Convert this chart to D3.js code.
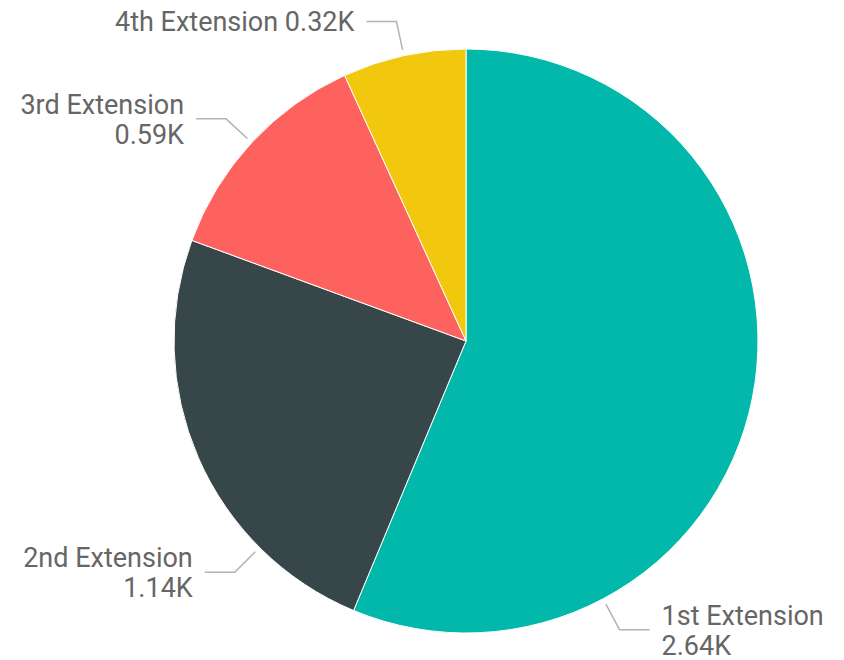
<!DOCTYPE html>
<html>
<head>
<meta charset="utf-8">
<script src="https://cdn.jsdelivr.net/npm/d3@7"></script>
<style>
  html, body { margin: 0; padding: 0; background: #fff; }
  svg { display: block; }
  .label { font-family: Roboto, "Noto Sans", sans-serif; font-size: 27px; fill: #666; }
  .leader { fill: none; stroke: #b3b3b3; stroke-width: 1.5; }
</style>
</head>
<body>
<svg id="chart" width="844" height="660"></svg>
<script>
// ----- Data ---------------------------------------------------------------
const categories = ["1st Extension", "2nd Extension", "3rd Extension", "4th Extension"];
const values = [2.64, 1.14, 0.59, 0.32]; // thousands
const colors = ["#01B8AA", "#374649", "#FD625E", "#F2C80F"];

// label layout: leader angle (deg, clockwise from 12 o'clock), two-line or not
const labelLayout = [
    { angle: 152, lines: 2 },
    { angle: 225, lines: 2 },
    { angle: null, lines: 2 }, // null = slice mid-angle
    { angle: null, lines: 1 }
];

// ----- Geometry -----------------------------------------------------------
const width = 844, height = 660;
const cx = 466, cy = 341, radius = 292;
const r1 = 298, r2 = 327, hLen = 30, gap = 12;

const svg = d3.select("#chart");
const g = svg.append("g").attr("transform", `translate(${cx},${cy})`);

const table = categories.map((c, i) => ({ name: c, value: values[i], color: colors[i], layout: labelLayout[i] }));

const pie = d3.pie().sort(null).value((d) => d.value);
const arc = d3.arc().innerRadius(0).outerRadius(radius);
const arcs = pie(table);

g.selectAll("path.slice")
    .data(arcs)
    .join("path")
    .attr("class", "slice")
    .attr("d", arc)
    .attr("fill", (d) => d.data.color)
    .attr("stroke", "#fff")
    .attr("stroke-width", 1);

// ----- Labels -------------------------------------------------------------
const fmt = (v) => d3.format(".2f")(v) + "K";
const polar = (a, r) => [r * Math.sin(a), -r * Math.cos(a)];

arcs.forEach((d) => {
    const lay = d.data.layout;
    const a = lay.angle == null ? (d.startAngle + d.endAngle) / 2 : (lay.angle * Math.PI) / 180;
    const p1 = polar(a, r1);
    const p2 = polar(a, r2);
    const right = Math.sin(a) > 0;
    const p3 = [p2[0] + (right ? hLen : -hLen), p2[1]];

    g.append("path")
        .attr("class", "leader")
        .attr("d", d3.line()([p1, p2, p3]));

    const tx = p3[0] + (right ? gap : -gap);
    const text = g.append("text")
        .attr("class", "label")
        .attr("text-anchor", right ? "start" : "end")
        .attr("x", tx);

    if (lay.lines === 1) {
        text.attr("y", p3[1] + 10).text(`${d.data.name} ${fmt(d.data.value)}`);
    } else {
        text.append("tspan").attr("x", tx).attr("y", p3[1] - 5).text(d.data.name);
        text.append("tspan").attr("x", tx).attr("y", p3[1] + 25).text(fmt(d.data.value));
    }
});
</script>
</body>
</html>
